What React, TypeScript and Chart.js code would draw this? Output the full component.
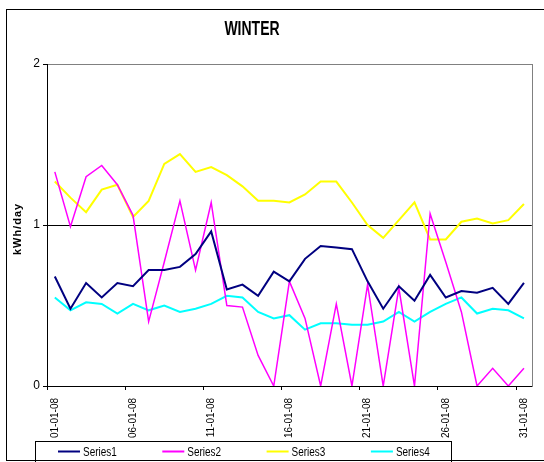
import React, { useEffect, useRef } from "react";
import { Chart, registerables } from "chart.js";

Chart.register(...registerables);

const chartTitle = "WINTER";
const yAxisTitle = "kWh/day";

const dates = [
  "01-01-08", "02-01-08", "03-01-08", "04-01-08", "05-01-08", "06-01-08", "07-01-08", "08-01-08",
  "09-01-08", "10-01-08", "11-01-08", "12-01-08", "13-01-08", "14-01-08", "15-01-08", "16-01-08",
  "17-01-08", "18-01-08", "19-01-08", "20-01-08", "21-01-08", "22-01-08", "23-01-08", "24-01-08",
  "25-01-08", "26-01-08", "27-01-08", "28-01-08", "29-01-08", "30-01-08", "31-01-08",
];

const seriesNames = ["Series1", "Series2", "Series3", "Series4"];

const series1 = [
  0.68, 0.48, 0.64, 0.55, 0.64, 0.62, 0.72, 0.72, 0.74, 0.82, 0.96, 0.6, 0.63, 0.56, 0.71, 0.65,
  0.79, 0.87, 0.86, 0.85, 0.65, 0.48, 0.62, 0.53, 0.69, 0.55, 0.59, 0.58, 0.61, 0.51, 0.64,
];
const series2 = [
  1.33, 0.99, 1.3, 1.37, 1.25, 1.06, 0.4, 0.77, 1.15, 0.72, 1.14, 0.5, 0.49, 0.19, 0, 0.65,
  0.42, 0, 0.51, 0, 0.63, 0, 0.61, 0, 1.07, 0.77, 0.46, 0, 0.11, 0, 0.11,
];
const series3 = [
  1.27, 1.17, 1.08, 1.22, 1.25, 1.05, 1.15, 1.38, 1.44, 1.33, 1.36, 1.31, 1.24, 1.15, 1.15, 1.14,
  1.19, 1.27, 1.27, 1.14, 1.0, 0.92, 1.03, 1.14, 0.91, 0.91, 1.02, 1.04, 1.01, 1.03, 1.13,
];
const series4 = [
  0.55, 0.47, 0.52, 0.51, 0.45, 0.51, 0.47, 0.5, 0.46, 0.48, 0.51, 0.56, 0.55, 0.46, 0.42, 0.44,
  0.35, 0.39, 0.39, 0.38, 0.38, 0.4, 0.46, 0.4, 0.46, 0.51, 0.55, 0.45, 0.48, 0.47, 0.42,
];

const seriesColors = ["#000080", "#FF00FF", "#FFFF00", "#00FFFF"];
const seriesWidths = [2, 1.5, 2, 2];

const FONT = '"Liberation Sans", Arial, Helvetica, sans-serif';

const decorPlugin = {
  id: "decor",
  beforeDraw(chart: any) {
    const { ctx, chartArea } = chart;
    ctx.save();
    ctx.fillStyle = "#fff";
    ctx.fillRect(0, 0, chart.width, chart.height);
    ctx.strokeStyle = "#808080";
    ctx.lineWidth = 1;
    ctx.strokeRect(
      Math.round(chartArea.left) + 0.5,
      Math.round(chartArea.top) + 0.5,
      Math.round(chartArea.right - chartArea.left),
      Math.round(chartArea.bottom - chartArea.top)
    );
    ctx.restore();
  },
  afterDraw(chart: any) {
    const { ctx, chartArea } = chart;
    ctx.save();
    ctx.strokeStyle = "#000";
    ctx.lineWidth = 1;
    ctx.strokeRect(6.5, 9.5, 600, 451);
    ctx.fillStyle = "#000";
    ctx.textBaseline = "alphabetic";
    // title
    ctx.save();
    ctx.textAlign = "center";
    ctx.translate(252, 35);
    ctx.scale(0.7, 1);
    ctx.font = `bold 20px ${FONT}`;
    ctx.fillText(chartTitle, 0, 0);
    ctx.restore();
    // y axis title
    ctx.save();
    ctx.textAlign = "center";
    ctx.textBaseline = "middle";
    ctx.translate(18, (chartArea.top + chartArea.bottom) / 2 + 4);
    ctx.rotate(-Math.PI / 2);
    ctx.font = `bold 11px ${FONT}`;
    try {
      (ctx as any).letterSpacing = "1px";
    } catch (e) {}
    ctx.fillText(yAxisTitle, 0, 0);
    ctx.restore();
    // legend
    ctx.strokeStyle = "#000";
    ctx.lineWidth = 1;
    ctx.strokeRect(35.5, 441.5, 416, 30);
    chart.data.datasets.forEach((ds: any, i: number) => {
      const x0 = 58 + i * 104.3;
      ctx.strokeStyle = ds.borderColor;
      ctx.lineWidth = 2;
      ctx.beginPath();
      ctx.moveTo(x0, 451.5);
      ctx.lineTo(x0 + 22, 451.5);
      ctx.stroke();
      ctx.save();
      ctx.translate(x0 + 25, 456);
      ctx.scale(0.83, 1);
      ctx.font = `12px ${FONT}`;
      ctx.fillStyle = "#000";
      ctx.textAlign = "left";
      ctx.fillText(ds.label, 0, 0);
      ctx.restore();
    });
    ctx.restore();
  },
};

export default function App() {
  const ref = useRef<HTMLCanvasElement | null>(null);
  useEffect(() => {
    if (!ref.current) return;
    Chart.defaults.font.family = FONT;
    const data = [series1, series2, series3, series4];
    const chart = new Chart(ref.current, {
      type: "line",
      data: {
        labels: dates,
        datasets: data.map((d, i) => ({
          label: seriesNames[i],
          data: d,
          borderColor: seriesColors[i],
          backgroundColor: seriesColors[i],
          borderWidth: seriesWidths[i],
          pointRadius: 0,
          tension: 0,
          fill: false,
        })),
      },
      options: {
        responsive: false,
        animation: false,
        layout: { padding: { top: 64, right: 3, left: 0, bottom: 0 } },
        plugins: {
          legend: { display: false },
          title: { display: false },
          tooltip: { enabled: false },
        },
        scales: {
          x: {
            type: "category",
            offset: true,
            afterFit: (s: any) => {
              s.height = 76;
            },
            grid: {
              offset: true,
              drawOnChartArea: false,
              tickLength: 4,
              tickColor: (c: any) => (c.index % 5 === 0 ? "#000" : "rgba(0,0,0,0)"),
            },
            border: { display: true, color: "#000", width: 1 },
            ticks: {
              autoSkip: false,
              maxRotation: 90,
              minRotation: 90,
              padding: 8,
              color: "#000",
              font: { size: 10 },
              callback: (_v: any, i: number) => (i % 5 === 0 ? dates[i] : ""),
            },
          },
          y: {
            min: 0,
            max: 2,
            afterFit: (s: any) => {
              s.width = 47;
            },
            border: { display: true, color: "#000", width: 1 },
            grid: {
              color: (c: any) => (c.tick && c.tick.value === 2 ? "#808080" : "#000"),
              tickColor: "#000",
              tickLength: 4,
            },
            ticks: {
              stepSize: 1,
              padding: 3,
              color: "#000",
              font: { size: 12 },
            },
          },
        },
      },
      plugins: [decorPlugin],
    });
    return () => chart.destroy();
  }, []);
  return (
    <div style={{ position: "absolute", left: 0, top: 0, width: 544, height: 462 }}>
      <canvas ref={ref} width={544} height={462} />
    </div>
  );
}
